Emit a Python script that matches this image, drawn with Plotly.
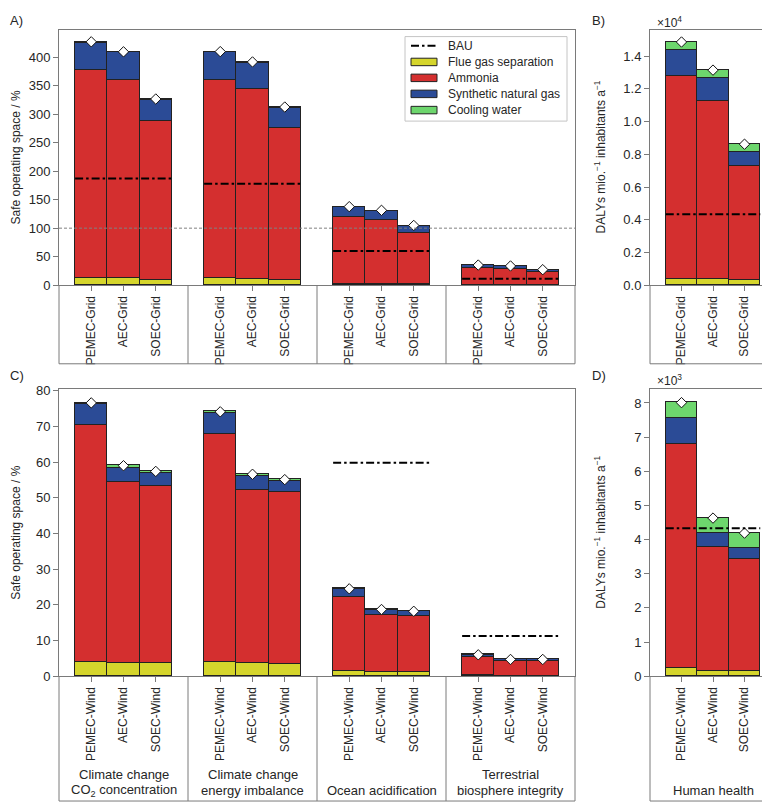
import plotly.graph_objects as go
import numpy as np

# ---------------- data ----------------
tech_grid = ["PEMEC-Grid", "AEC-Grid", "SOEC-Grid"]
tech_wind = ["PEMEC-Wind", "AEC-Wind", "SOEC-Wind"]
pb_categories = [
    ["Climate change", "CO<sub>2</sub> concentration"],
    ["Climate change", "energy imbalance"],
    ["", "Ocean acidification"],
    ["Terrestrial", "biosphere integrity"],
]
hh_category = ["", "Human health"]
components = ["Flue gas separation", "Ammonia", "Synthetic natural gas", "Cooling water"]

# Safe operating space / %  (order: category-major, 3 technologies each)
flue_grid = [13.2, 13.0, 10.3, 12.5, 12.0, 10.0, 3.2, 3.0, 2.4, 0.6, 0.6, 0.5]
ammonia_grid = [363.8, 348.0, 278.2, 348.5, 333.4, 266.4, 117.5, 112.0, 89.6, 29.9, 28.1, 22.5]
sng_grid = [49.0, 47.6, 37.5, 48.0, 45.6, 35.6, 16.7, 16.0, 12.6, 4.6, 4.8, 4.0]
cooling_grid = [0.8, 0.6, 0.5, 0.6, 0.5, 0.4, 0.3, 0.3, 0.2, 0.2, 0.2, 0.2]

flue_wind = [4.0, 3.7, 3.6, 3.9, 3.6, 3.4, 1.3, 1.1, 1.1, 0.2, 0.1, 0.1]
ammonia_wind = [66.4, 50.7, 49.7, 63.8, 48.6, 48.0, 20.9, 16.1, 15.8, 5.2, 4.2, 4.2]
sng_wind = [5.7, 4.0, 3.6, 5.9, 3.9, 3.3, 2.1, 1.4, 1.2, 0.5, 0.3, 0.3]
cooling_wind = [0.5, 0.6, 0.5, 0.5, 0.5, 0.4, 0.2, 0.1, 0.1, 0.1, 0.1, 0.1]

bau_pb = [187.0, 178.0, 59.8, 11.3]
safe_limit = 100

# Human health, DALYs per million inhabitants per year
hh_flue_grid = [400, 380, 320]
hh_ammonia_grid = [12400, 10890, 6980]
hh_sng_grid = [1600, 1430, 850]
hh_cooling_grid = [470, 450, 470]

hh_flue_wind = [220, 150, 130]
hh_ammonia_wind = [6560, 3630, 3300]
hh_sng_wind = [760, 390, 310]
hh_cooling_wind = [470, 460, 450]

hh_bau = 4330
hh_scale_grid = 1e4
hh_scale_wind = 1e3

pb_yticks_grid = [0, 50, 100, 150, 200, 250, 300, 350, 400]
pb_yticks_wind = [0, 10, 20, 30, 40, 50, 60, 70, 80]
hh_yticks_grid = [0.0, 0.2, 0.4, 0.6, 0.8, 1.0, 1.2, 1.4]
hh_yticks_wind = [0, 1, 2, 3, 4, 5, 6, 7, 8]

# ---------------- style ----------------
W, H = 770, 802
FONT = "Liberation Sans, Arial, sans-serif"
TXT = "#262626"
FRAME = "#7a7a7a"
COLORS = ["#d5d52c", "#d42f2f", "#2b4b96", "#6dd66d"]
EDGE = "#222222"
BAU_DASH = "8px,3px,2.5px,3px"


def px_x(p):
    return p / W


def px_y(p):
    return 1 - p / H


# panel pixel boxes (left, right, top, bottom)
PA = (51, 567, 16, 276)
PB = (642, 768, 16, 276)
PC = (51, 567, 382, 674)
PD = (642, 768, 382, 674)
LAB_TOP_BOTTOM = 356
LAB_BOT_BOTTOM = 801

n_groups = len(pb_categories)
pb_pos = [4 * g + 1 + j for g in range(n_groups) for j in range(3)]
hh_pos = [1, 2, 3]

fig = go.Figure()


def add_stack(xa, ya, pos, series):
    for comp, vals, col in zip(components, series, COLORS):
        fig.add_trace(go.Bar(
            x=pos, y=vals, name=comp, xaxis=xa, yaxis=ya, width=1,
            marker=dict(color=col, line=dict(color=EDGE, width=1)),
            showlegend=False, hoverinfo="y+name"))
    total = np.sum(np.array(series, dtype=float), axis=0)
    fig.add_trace(go.Scatter(
        x=pos, y=total, mode="markers", xaxis=xa, yaxis=ya, showlegend=False,
        marker=dict(symbol="diamond", size=8, color="white", line=dict(color="#111", width=1)),
        cliponaxis=False, hoverinfo="y"))


def add_bau(xa, ya, values, n):
    xs, ys = [], []
    for g in range(n):
        xs += [4 * g + 0.5, 4 * g + 3.5, None]
        ys += [values[g], values[g], None]
    fig.add_trace(go.Scatter(
        x=xs, y=ys, mode="lines", xaxis=xa, yaxis=ya, showlegend=False,
        line=dict(color="black", width=2, dash=BAU_DASH), hoverinfo="skip"))


# A
add_stack("x", "y", pb_pos, [flue_grid, ammonia_grid, sng_grid, cooling_grid])
add_bau("x", "y", bau_pb, n_groups)
# B
add_stack("x2", "y2", hh_pos, [np.array(hh_flue_grid) / hh_scale_grid,
                               np.array(hh_ammonia_grid) / hh_scale_grid,
                               np.array(hh_sng_grid) / hh_scale_grid,
                               np.array(hh_cooling_grid) / hh_scale_grid])
add_bau("x2", "y2", [hh_bau / hh_scale_grid], 1)
# C
add_stack("x3", "y3", pb_pos, [flue_wind, ammonia_wind, sng_wind, cooling_wind])
add_bau("x3", "y3", bau_pb, n_groups)
# D
add_stack("x4", "y4", hh_pos, [np.array(hh_flue_wind) / hh_scale_wind,
                               np.array(hh_ammonia_wind) / hh_scale_wind,
                               np.array(hh_sng_wind) / hh_scale_wind,
                               np.array(hh_cooling_wind) / hh_scale_wind])
add_bau("x4", "y4", [hh_bau / hh_scale_wind], 1)


def xaxis(box, rng, tickvals, ticktext, anchor):
    return dict(domain=[px_x(box[0]), px_x(box[1])], range=rng, anchor=anchor,
                tickvals=tickvals, ticktext=ticktext, tickangle=-90,
                ticks="outside", ticklen=5, tickcolor=FRAME, tickwidth=1,
                showline=True, mirror=True, linecolor=FRAME, linewidth=1,
                showgrid=False, zeroline=False, fixedrange=True,
                tickfont=dict(family=FONT, size=12, color=TXT))


def yaxis(box, rng, tickvals, ticktext, anchor):
    return dict(domain=[px_y(box[3]), px_y(box[2])], range=rng, anchor=anchor,
                tickvals=tickvals, ticktext=ticktext,
                ticks="outside", ticklen=5, tickcolor=FRAME, tickwidth=1,
                showline=True, mirror=True, linecolor=FRAME, linewidth=1,
                showgrid=False, zeroline=False, fixedrange=True,
                tickfont=dict(family=FONT, size=13, color=TXT))


fig.update_layout(
    width=W, height=H, margin=dict(l=0, r=0, t=0, b=0),
    paper_bgcolor="white", plot_bgcolor="white", barmode="stack", bargap=0,
    font=dict(family=FONT, size=12, color=TXT), showlegend=False,
    xaxis=xaxis(PA, [0, 16], pb_pos, tech_grid * n_groups, "y"),
    yaxis=yaxis(PA, [0, 448], pb_yticks_grid, [str(v) for v in pb_yticks_grid], "x"),
    xaxis2=xaxis(PB, [0, 4], hh_pos, tech_grid, "y2"),
    yaxis2=yaxis(PB, [0, 1.562], hh_yticks_grid, [f"{v:.1f}" for v in hh_yticks_grid], "x2"),
    xaxis3=xaxis(PC, [0, 16], pb_pos, tech_wind * n_groups, "y3"),
    yaxis3=yaxis(PC, [0, 80.4], pb_yticks_wind, [str(v) for v in pb_yticks_wind], "x3"),
    xaxis4=xaxis(PD, [0, 4], hh_pos, tech_wind, "y4"),
    yaxis4=yaxis(PD, [0, 8.4], hh_yticks_wind, [str(v) for v in hh_yticks_wind], "x4"),
)

shapes = []
# planetary boundary (100 %) line in panel A
shapes.append(dict(type="line", xref="x domain", yref="y", x0=0, x1=1,
                   y0=safe_limit, y1=safe_limit,
                   line=dict(color="#808080", width=1, dash="3px,2px")))


def label_box(box, bottom, xref, seps):
    l, r, _, b = box
    for xx in (l, r):
        shapes.append(dict(type="line", xref="paper", yref="paper",
                           x0=px_x(xx), x1=px_x(xx), y0=px_y(b), y1=px_y(bottom),
                           line=dict(color=FRAME, width=1)))
    shapes.append(dict(type="line", xref="paper", yref="paper",
                       x0=px_x(l), x1=px_x(r), y0=px_y(bottom), y1=px_y(bottom),
                       line=dict(color=FRAME, width=1)))
    for s in seps:
        shapes.append(dict(type="line", xref=xref, yref="paper",
                           x0=s, x1=s, y0=px_y(b), y1=px_y(bottom),
                           line=dict(color=FRAME, width=1)))


seps = [4 * g for g in range(1, n_groups)]
label_box(PA, LAB_TOP_BOTTOM, "x", seps)
label_box(PB, LAB_TOP_BOTTOM, "x2", [])
label_box(PC, LAB_BOT_BOTTOM, "x3", seps)
label_box(PD, LAB_BOT_BOTTOM, "x4", [])

# legend (drawn)
LEG = (397, 559, 23, 109)
shapes.append(dict(type="rect", xref="paper", yref="paper",
                   x0=px_x(LEG[0]), x1=px_x(LEG[1]), y0=px_y(LEG[3]), y1=px_y(LEG[2]),
                   line=dict(color="#c4c4c4", width=1), fillcolor="white"))
leg_rows = [32.3, 48.8, 65.0, 81.3, 97.8]
shapes.append(dict(type="line", xref="paper", yref="paper",
                   x0=px_x(403), x1=px_x(429), y0=px_y(leg_rows[0]), y1=px_y(leg_rows[0]),
                   line=dict(color="black", width=2, dash=BAU_DASH)))
for yy, col in zip(leg_rows[1:], COLORS):
    shapes.append(dict(type="rect", xref="paper", yref="paper",
                       x0=px_x(403), x1=px_x(429), y0=px_y(yy + 3.8), y1=px_y(yy - 3.8),
                       line=dict(color=EDGE, width=1), fillcolor=col))

annotations = []
for yy, txt in zip(leg_rows, ["BAU"] + components):
    annotations.append(dict(xref="paper", yref="paper", x=px_x(438), y=px_y(yy),
                            xanchor="left", yanchor="middle", text=txt, showarrow=False,
                            font=dict(family=FONT, size=12, color=TXT)))


def ann(xp, yp, text, size=12, xanchor="left", angle=0):
    annotations.append(dict(xref="paper", yref="paper", x=px_x(xp), y=px_y(yp),
                            xanchor=xanchor, yanchor="middle", text=text, showarrow=False,
                            textangle=angle, font=dict(family=FONT, size=size, color=TXT)))


# panel letters
ann(0, 7, "A)", size=13)
ann(582, 7, "B)", size=13)
ann(0, 368, "C)", size=13)
ann(582, 368, "D)", size=13)
# exponents
ann(647, 8, "×10<sup>4</sup>", size=12)
ann(647, 372, "×10<sup>3</sup>", size=12)
# y titles
ann(8, (PA[2] + PA[3]) / 2, "Safe operating space / %", xanchor="center", angle=-90)
ann(8, (PC[2] + PC[3]) / 2, "Safe operating space / %", xanchor="center", angle=-90)
ann(592, (PB[2] + PB[3]) / 2, "DALYs mio.<sup>−1</sup> inhabitants a<sup>−1</sup>",
    xanchor="center", angle=-90)
ann(592, (PD[2] + PD[3]) / 2, "DALYs mio.<sup>−1</sup> inhabitants a<sup>−1</sup>",
    xanchor="center", angle=-90)

# category labels under bottom panels
for g, lines in enumerate(pb_categories):
    for k, line in enumerate(lines):
        if line:
            annotations.append(dict(xref="x3", yref="paper", x=4 * g + 2,
                                    y=px_y(774 + 16 * k), xanchor="center", yanchor="middle",
                                    text=line, showarrow=False,
                                    font=dict(family=FONT, size=13, color=TXT)))
for k, line in enumerate(hh_category):
    if line:
        annotations.append(dict(xref="x4", yref="paper", x=2, y=px_y(774 + 16 * k),
                                xanchor="center", yanchor="middle", text=line,
                                showarrow=False, font=dict(family=FONT, size=13, color=TXT)))

fig.update_layout(shapes=shapes, annotations=annotations)
fig.write_html("out.html")
